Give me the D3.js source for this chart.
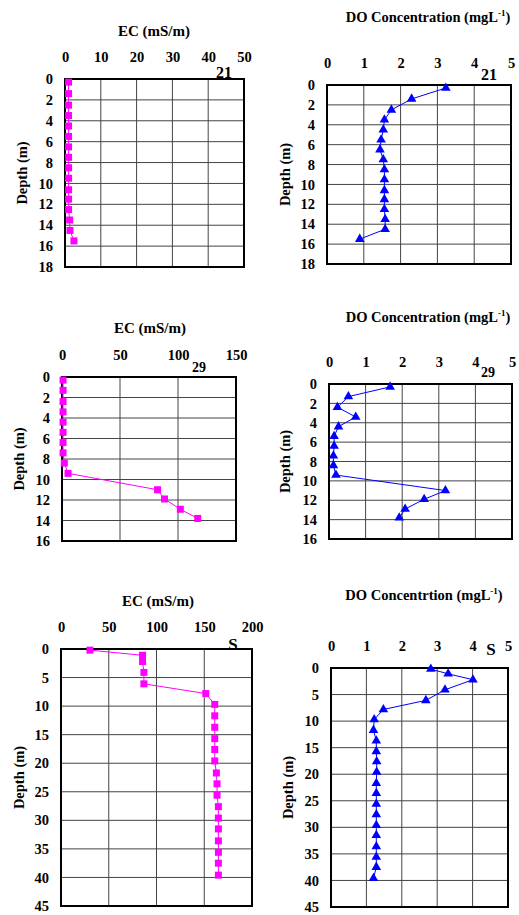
<!DOCTYPE html>
<html>
<head>
<meta charset="utf-8">
<script src="https://cdn.jsdelivr.net/npm/d3@7"></script>
<style>
  body { margin: 0; background: #fff; }
  text { font-family: "Liberation Serif", "Times New Roman", serif; font-weight: bold; fill: #000; }
</style>
</head>
<body>
<svg id="chart" width="519" height="915"></svg>
<script>
// station 21
const depth21 = [0.3, 1.4, 2.5, 3.5, 4.5, 5.5, 6.5, 7.5, 8.5, 9.5, 10.6, 11.5, 12.5, 13.5, 14.5, 15.5];
const ec21 = [1.0, 1.0, 1.0, 1.0, 1.0, 1.0, 1.0, 1.0, 1.0, 1.0, 1.0, 1.0, 1.0, 1.3, 1.4, 2.5];
const do21 = [3.23, 2.3, 1.75, 1.56, 1.53, 1.47, 1.44, 1.53, 1.56, 1.56, 1.56, 1.56, 1.56, 1.58, 1.58, 0.89];

// station 29
const depth29 = [0.3, 1.3, 2.4, 3.4, 4.4, 5.4, 6.4, 7.4, 8.4, 9.4, 11.0, 11.9, 12.9, 13.8];
const ec29 = [0.9, 0.9, 0.9, 0.9, 0.9, 0.9, 0.9, 0.9, 2.0, 5.2, 82.4, 88.4, 102, 117];
const do29 = [1.67, 0.53, 0.23, 0.73, 0.26, 0.14, 0.14, 0.12, 0.12, 0.19, 3.18, 2.6, 2.08, 1.92];

// station S
const depthS = [0.2, 1.1, 2.2, 4.1, 6.1, 7.8, 9.7, 11.7, 13.7, 15.7, 17.6, 19.6, 21.7, 23.6, 25.6, 27.6, 29.6, 31.5, 33.6, 35.6, 37.5, 39.6];
const ecS = [30.3, 85.4, 85.4, 86.8, 86.8, 151.6, 161, 161, 161, 161, 161, 161, 162.7, 163.4, 163.4, 164.8, 164.8, 164.8, 164.8, 164.8, 164.8, 164.8];
const doS = [2.82, 3.31, 4.01, 3.22, 2.68, 1.48, 1.22, 1.2, 1.28, 1.28, 1.29, 1.29, 1.28, 1.28, 1.28, 1.28, 1.28, 1.28, 1.28, 1.28, 1.28, 1.2];

const ecTitle = "EC (mS/m)";
const doTitle = "DO Concentration";
const doTitleS = "DO Concentrtion";

const svg = d3.select("#chart");

const panels = [
  { box: [65, 244, 79, 267], x: [0, 50], xStep: 10, y: [0, 18], yStep: 2, depth: depth21, vals: ec21, kind: "ec",
    title: ecTitle, titleX: 154, titleY: 36, tag: "21", tagX: 224, tagY: 78, tagSize: 16, labelX: 22 },
  { box: [327, 511, 85, 264], x: [0, 5], xStep: 1, y: [0, 18], yStep: 2, depth: depth21, vals: do21, kind: "do",
    title: doTitle, titleX: 428, titleY: 22, tag: "21", tagX: 489, tagY: 80, tagSize: 16, labelX: 285 },
  { box: [62, 236, 377, 541], x: [0, 150], xStep: 50, y: [0, 16], yStep: 2, depth: depth29, vals: ec29, kind: "ec",
    title: ecTitle, titleX: 150, titleY: 333, tag: "29", tagX: 199, tagY: 372, tagSize: 14, labelX: 19 },
  { box: [329, 512, 384, 539], x: [0, 5], xStep: 1, y: [0, 16], yStep: 2, depth: depth29, vals: do29, kind: "do",
    title: doTitle, titleX: 428, titleY: 322, tag: "29", tagX: 488, tagY: 377, tagSize: 14, labelX: 285 },
  { box: [61, 252, 649, 906], x: [0, 200], xStep: 50, y: [0, 45], yStep: 5, depth: depthS, vals: ecS, kind: "ec",
    title: ecTitle, titleX: 158, titleY: 606, tag: "S", tagX: 233, tagY: 650, tagSize: 17, labelX: 19 },
  { box: [331, 508, 668, 907], x: [0, 5], xStep: 1, y: [0, 45], yStep: 5, depth: depthS, vals: doS, kind: "do",
    title: doTitleS, titleX: 424, titleY: 600, tag: "S", tagX: 491, tagY: 655, tagSize: 17, labelX: 288 }
];

panels.forEach(p => {
  const [l, r, t, b] = p.box;
  const x = d3.scaleLinear().domain(p.x).range([l, r]);
  const y = d3.scaleLinear().domain(p.y).range([t, b]);
  const xTicks = d3.range(p.x[0], p.x[1] + p.xStep / 2, p.xStep);
  const yTicks = d3.range(p.y[0], p.y[1] + p.yStep / 2, p.yStep);
  const g = svg.append("g");

  // grid
  g.append("g").selectAll("line").data(xTicks).join("line")
    .attr("x1", d => x(d)).attr("x2", d => x(d)).attr("y1", t).attr("y2", b)
    .attr("stroke", "#444").attr("stroke-width", 1);
  g.append("g").selectAll("line").data(yTicks).join("line")
    .attr("x1", l).attr("x2", r).attr("y1", d => y(d)).attr("y2", d => y(d))
    .attr("stroke", "#444").attr("stroke-width", 1);

  // top axis labels
  const xAxis = d3.axisTop(x).tickValues(xTicks).tickFormat(d3.format("d")).tickSize(0).tickPadding(17);
  g.append("g").attr("class", "xa").attr("transform", `translate(0,${t})`).call(xAxis)
    .call(s => s.select(".domain").remove())
    .selectAll("text").style("font-size", "14.5px").attr("dy", "0em");

  const yAxis = d3.axisLeft(y).tickValues(yTicks).tickFormat(d3.format("d")).tickSize(0).tickPadding(12);
  g.append("g").attr("class", "ya").attr("transform", `translate(${l},0)`).call(yAxis)
    .call(s => s.select(".domain").remove())
    .selectAll("text").style("font-size", "14.5px");

  // border
  g.append("rect").attr("x", l).attr("y", t).attr("width", r - l).attr("height", b - t)
    .attr("fill", "none").attr("stroke", "#000").attr("stroke-width", 2);

  // data
  const pts = p.depth.map((d, i) => [p.vals[i], d]);
  const color = p.kind === "ec" ? "#ff00ff" : "#0000ff";
  g.append("path").datum(pts)
    .attr("d", d3.line().x(d => x(d[0])).y(d => y(d[1])))
    .attr("fill", "none").attr("stroke", color).attr("stroke-width", 1);

  const sym = p.kind === "ec" ? d3.symbol().type(d3.symbolSquare).size(49)
                              : d3.symbol().type(d3.symbolTriangle).size(40);
  g.append("g").selectAll("path").data(pts).join("path")
    .attr("transform", d => `translate(${x(d[0])},${y(d[1])})`)
    .attr("d", sym).attr("fill", color);

  // titles
  const tt = g.append("text").attr("x", p.titleX).attr("y", p.titleY)
    .attr("text-anchor", "middle").style("font-size", p.kind === "ec" ? "15px" : "14.5px");
  tt.append("tspan").text(p.title);
  if (p.kind === "do") {
    tt.append("tspan").text(" (mgL");
    tt.append("tspan").text("-1").attr("dy", -6).style("font-size", "9px");
    tt.append("tspan").text(")").attr("dy", 6);
  }

  g.append("text").attr("x", p.tagX).attr("y", p.tagY).attr("text-anchor", "middle")
    .style("font-size", p.tagSize + "px").text(p.tag);

  g.append("text").attr("transform", `translate(${p.labelX},${(t + b) / 2}) rotate(-90)`)
    .attr("text-anchor", "middle").attr("dy", "0.35em").style("font-size", "14.5px")
    .text("Depth (m)");
});
</script>
</body>
</html>
